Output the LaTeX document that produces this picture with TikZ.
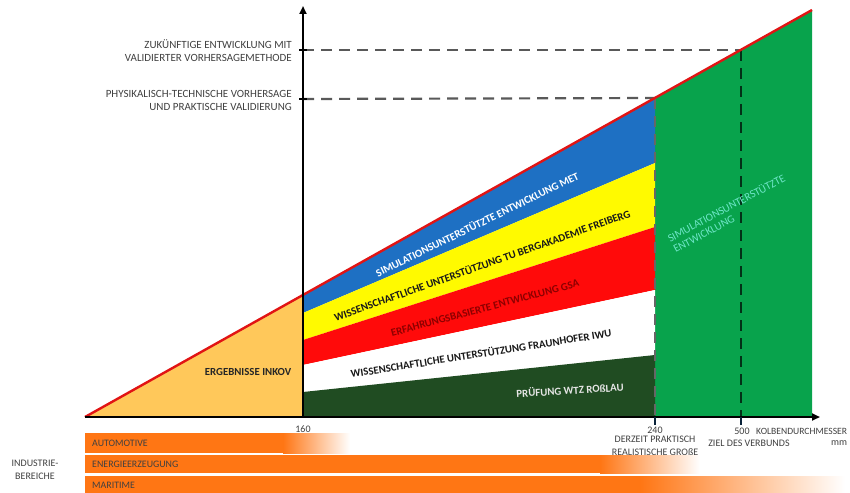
\documentclass[tikz,border=0pt]{standalone}
\usepackage{fontspec}
\setmainfont{Carlito}
\usetikzlibrary{arrows.meta}

\begin{document}
\begin{tikzpicture}[x=1pt,y=-1pt,
  axislabel/.style={font=\fontsize{11}{13}\selectfont,text=black!75,align=right,anchor=east,inner sep=0pt},
  ticklabel/.style={font=\fontsize{10}{13}\selectfont,text=black!75,align=center,inner sep=0pt},
  bandlabel/.style={font=\bfseries\fontsize{10.8}{12}\selectfont,inner sep=0pt},
  barlabel/.style={font=\fontsize{9.9}{11}\selectfont,text=black!75,anchor=west,inner sep=0pt},
  guide/.style={dash pattern=on 11pt off 7pt,line width=2.2pt}]
\definecolor{inkovorange}{RGB}{255,200,90}
\definecolor{bandblue}{RGB}{30,112,195}
\definecolor{bandyellow}{RGB}{255,250,0}
\definecolor{bandred}{RGB}{255,10,10}
\definecolor{bandwhite}{RGB}{255,255,255}
\definecolor{banddarkgreen}{RGB}{32,76,34}
\definecolor{simgreen}{RGB}{8,163,76}
\definecolor{barorange}{RGB}{255,118,20}
\definecolor{trendred}{RGB}{225,20,20}
\definecolor{simtext}{RGB}{110,230,200}
\useasboundingbox (0,0) rectangle (850,492);

% points on the base line and on the trend line
\coordinate (O) at (85,417);
\coordinate (A) at (303,417);
\coordinate (B) at (655,417);
\coordinate (C) at (741,417);
\coordinate (D) at (812,417);
\coordinate (At) at (303,295);
\coordinate (Bt) at (655,98);
\coordinate (Ct) at (741,50);
\coordinate (Dt) at (812,10);
\coordinate (Ya) at (303,50);
\coordinate (Yb) at (303,99);

% areas
\fill[inkovorange] (O) -- (A) -- (At) -- cycle;
\fill[simgreen] (B) -- (Bt) -- (Dt) -- (D) -- cycle;
\foreach \c/\la/\ra/\lb/\rb in {bandblue/295/98/313/163, bandyellow/313/163/340/227,
    bandred/340/227/365/290, bandwhite/365/290/392/355, banddarkgreen/392/355/417/417}
  \fill[\c] (303,\la) -- (655,\ra) -- (655,\rb) -- (303,\lb) -- cycle;

% guide lines
\draw[guide,black!65] (Yb) -- (Bt);
\draw[guide,black!65] (Ya) -- (Ct);
\draw[guide,black!60] (Bt) -- (B);
\draw[guide,black!70!simgreen] (Ct) -- (C);

% trend line and axes
\draw[trendred,line width=2.4pt] (O) -- (Dt);
\draw[line width=2pt,-{Triangle[length=8pt,width=7pt]}] (O) -- (820,417);
\draw[line width=2pt,-{Triangle[length=8pt,width=7pt]}] (A) -- (303,6);
\foreach \p in {Ya,Yb}
  \draw[line width=1.5pt] ([xshift=-4pt]\p) -- ([xshift=4pt]\p);
\foreach \p in {B,C}
  \draw[line width=1.5pt,black!70!bandblue] (\p) -- ([yshift=-8pt]\p);

% axis texts
\node[axislabel] (la) at (292,51) {ZUKÜNFTIGE ENTWICKLUNG MIT\\VALIDIERTER VORHERSAGEMETHODE};
\node[axislabel] (lb) at (292,100) {PHYSIKALISCH-TECHNISCHE VORHERSAGE\\UND PRAKTISCHE VALIDIERUNG};
\node[ticklabel] (t160) at (303,429) {160};
\node[ticklabel] (t240) at (655,430) {240};
\node[ticklabel] (t240b) at (655,446) {DERZEIT PRAKTISCH\\REALISTISCHE GROßE};
\node[ticklabel] (t500) at (742,431) {500};
\node[ticklabel] (t500b) at (749,443) {ZIEL DES VERBUNDS};
\node[ticklabel,anchor=west,font=\fontsize{9.6}{12}\selectfont] (tkd) at (756,431) {KOLBENDURCHMESSER};
\node[ticklabel] (tmm) at (839,443) {mm};

% band texts
\node[bandlabel,text=black!85] (inkov) at (248,372) {ERGEBNISSE INKOV};
\node[bandlabel,text=white,rotate=26] (met) at (477,224) {SIMULATIONSUNTERSTÜTZTE ENTWICKLUNG MET};
\node[bandlabel,text=black!90,rotate=19.5] (tub) at (482,265) {WISSENSCHAFTLICHE UNTERSTÜTZUNG TU BERGAKADEMIE FREIBERG};
\node[bandlabel,text=red!55!black,rotate=15] (gsa) at (485,308) {ERFAHRUNGSBASIERTE ENTWICKLUNG GSA};
\node[bandlabel,text=black!90,rotate=9] (iwu) at (481,353) {WISSENSCHAFTLICHE UNTERSTÜTZUNG FRAUNHOFER IWU};
\node[bandlabel,text=black!10,rotate=3.5] (wtz) at (570,390) {PRÜFUNG WTZ ROßLAU};
\node[font=\fontsize{11}{12}\selectfont,text=simtext,align=left,rotate=28,inner sep=0pt] (sim) at (729,213)
  {SIMULATIONSUNTERSTÜTZTE\\ENTWICKLUNG};

% industry bars
\fill[barorange] (85,433) rectangle (283,453);
\shade[left color=barorange,right color=white] (283,433) rectangle (350,453);
\fill[barorange] (85,455) rectangle (600,473);
\shade[left color=barorange,right color=white] (600,455) rectangle (700,473);
\fill[barorange] (85,476) rectangle (640,494);
\shade[left color=barorange,right color=white] (640,476) rectangle (845,494);
\node[barlabel] (auto) at (92,443) {AUTOMOTIVE};
\node[barlabel] (energie) at (92,464) {ENERGIEERZEUGUNG};
\node[barlabel] (maritim) at (92,485) {MARITIME};
\node[font=\fontsize{10}{13}\selectfont,text=black!75,align=center] (ind) at (35,470) {INDUSTRIE-\\BEREICHE};
\end{tikzpicture}
\end{document}
